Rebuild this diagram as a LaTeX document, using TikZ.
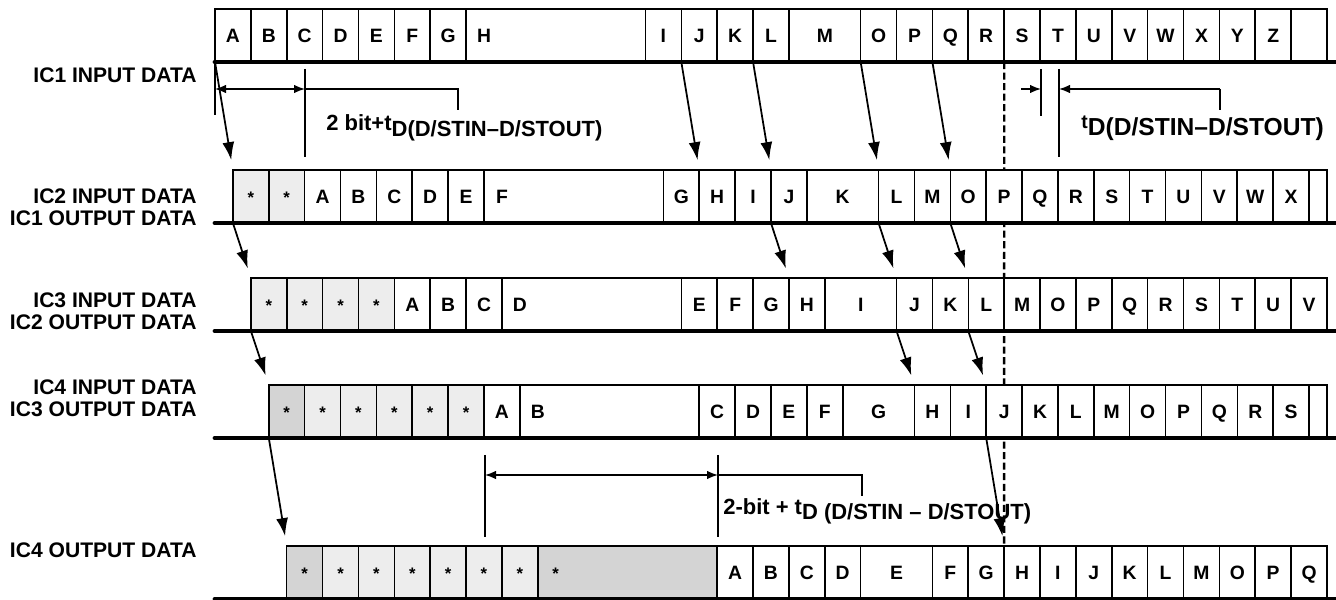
\documentclass[tikz,border=0pt]{standalone}
\usepackage{fontspec}
\setmainfont{Liberation Sans}
\usetikzlibrary{positioning,arrows.meta,backgrounds}

\newlength{\cu}
\setlength{\cu}{7.174mm}
\newcommand{\cellbox}[2]{\pgfmathsetmacro\tw{#1==5 ? 1 : #1}\makebox[#1\cu][l]{\makebox[\tw\cu]{#2}}}

\definecolor{padlight}{gray}{0.93}
\definecolor{paddark}{gray}{0.83}

\tikzset{
  cell/.style={draw, line width=0.9pt, fill=white, inner sep=0pt, outer sep=0pt,
    minimum height=10.6mm, text height=8pt, text depth=0pt, anchor=north west,
    font=\fontsize{11}{13}\selectfont\bfseries},
  pad/.style={cell, font=\fontsize{9.5}{11}\selectfont\bfseries},
  rowstart/.style={inner sep=0pt, outer sep=0pt, minimum size=0pt},
  bus/.style={line width=2.8pt, line cap=round},
  hop/.style={-{Latex[length=3.6mm,width=2.4mm]}, line width=1pt, shorten >=2mm},
  tick/.style={line width=1pt},
  arr/.style={-{Latex[length=2.2mm,width=1.7mm]}, line width=0.8pt},
  span/.style={{Latex[length=2.2mm,width=1.7mm]}-{Latex[length=2.2mm,width=1.7mm]}, line width=0.8pt},
  guide/.style={line width=1.3pt, dash pattern=on 4pt off 2pt},
  note/.style={anchor=base west, inner sep=0pt, font=\fontsize{12.5}{14}\selectfont\bfseries},
  lane/.style={anchor=east, align=right, inner sep=0pt, font=\fontsize{12}{12.5}\selectfont\bfseries}
}

\begin{document}
\begin{tikzpicture}[x=0.2mm, y=-0.2mm]
    \useasboundingbox (0,0) rectangle (1336,600);

    % Row starting points (top left of each data row)
    \node[rowstart] (r1-0) at (215,9) {};
    \node[rowstart] (r2-0) at (232.9,170) {};
    \node[rowstart] (r3-0) at (250.9,278) {};
    \node[rowstart] (r4-0) at (268.8,385) {};
    \node[rowstart] (r5-0) at (286.7,546) {};
    \coordinate (lft) at (215,0);
    \coordinate (rgt) at (1345,0);

    % IC1 input data
    \foreach \t/\w [count=\i, remember=\i as \j (initially 0)] in {A/1,B/1,C/1,D/1,E/1,F/1,G/1,H/5,I/1,J/1,K/1,L/1,M/2,O/1,P/1,Q/1,R/1,S/1,T/1,U/1,V/1,W/1,X/1,Y/1,Z/1,{}/1}
        \node[cell] (r1-\i) at (r1-\j.north east) {\cellbox{\w}{\t}};

    % IC2 input data
    \foreach \f/\w [count=\i, remember=\i as \j (initially 0)] in {padlight/1,padlight/1}
        \node[pad, fill=\f] (r2-\i) at (r2-\j.north east) {\cellbox{\w}{*}};
    \foreach \t/\w [count=\i from 3, remember=\i as \j (initially 2)] in {A/1,B/1,C/1,D/1,E/1,F/5,G/1,H/1,I/1,J/1,K/2,L/1,M/1,O/1,P/1,Q/1,R/1,S/1,T/1,U/1,V/1,W/1,X/1,{}/0.5}
        \node[cell] (r2-\i) at (r2-\j.north east) {\cellbox{\w}{\t}};

    % IC3 input data
    \foreach \f/\w [count=\i, remember=\i as \j (initially 0)] in {padlight/1,padlight/1,padlight/1,padlight/1}
        \node[pad, fill=\f] (r3-\i) at (r3-\j.north east) {\cellbox{\w}{*}};
    \foreach \t/\w [count=\i from 5, remember=\i as \j (initially 4)] in {A/1,B/1,C/1,D/5,E/1,F/1,G/1,H/1,I/2,J/1,K/1,L/1,M/1,O/1,P/1,Q/1,R/1,S/1,T/1,U/1,V/1}
        \node[cell] (r3-\i) at (r3-\j.north east) {\cellbox{\w}{\t}};

    % IC4 input data
    \foreach \f/\w [count=\i, remember=\i as \j (initially 0)] in {paddark/1,padlight/1,padlight/1,padlight/1,padlight/1,padlight/1}
        \node[pad, fill=\f] (r4-\i) at (r4-\j.north east) {\cellbox{\w}{*}};
    \foreach \t/\w [count=\i from 7, remember=\i as \j (initially 6)] in {A/1,B/5,C/1,D/1,E/1,F/1,G/2,H/1,I/1,J/1,K/1,L/1,M/1,O/1,P/1,Q/1,R/1,S/1,{}/0.5}
        \node[cell] (r4-\i) at (r4-\j.north east) {\cellbox{\w}{\t}};

    % IC4 output data
    \foreach \f/\w [count=\i, remember=\i as \j (initially 0)] in {paddark/1,padlight/1,padlight/1,padlight/1,padlight/1,padlight/1,padlight/1,paddark/5}
        \node[pad, fill=\f] (r5-\i) at (r5-\j.north east) {\cellbox{\w}{*}};
    \foreach \t/\w [count=\i from 9, remember=\i as \j (initially 8)] in {A/1,B/1,C/1,D/1,E/2,F/1,G/1,H/1,I/1,J/1,K/1,L/1,M/1,O/1,P/1,Q/1}
        \node[cell] (r5-\i) at (r5-\j.north east) {\cellbox{\w}{\t}};

    % Dashed guide behind the rows
    \begin{scope}[on background layer]
        \draw[guide] (r1-18.south west) -- (r5-16.north west);
    \end{scope}

    % Data lines
    \foreach \r in {1,...,5}
        \draw[bus] (lft |- r\r-1.south west) -- (rgt |- r\r-1.south west);

    % Bits passed on to the next IC
    \foreach \a/\b/\k in {1/2/1, 1/2/10, 1/2/12, 1/2/14, 1/2/16,
                          2/3/1, 2/3/12, 2/3/14, 2/3/16,
                          3/4/1, 3/4/14, 3/4/16,
                          4/5/1, 4/5/16}
        \draw[hop] (r\a-\k.south west) -- (r\b-\k.north west);

    % Row labels
    \node[lane] (l1) at (197,75) {IC1 INPUT DATA};
    \node[lane] (l2) at (197,207) {IC2 INPUT DATA\\IC1 OUTPUT DATA};
    \node[lane] (l3) at (197,311) {IC3 INPUT DATA\\IC2 OUTPUT DATA};
    \node[lane] (l4) at (197,398) {IC4 INPUT DATA\\IC3 OUTPUT DATA};
    \node[lane] (l5) at (197,550) {IC4 OUTPUT DATA};

    % 2 bit delay, IC1 to IC2
    \coordinate (a1) at (215,115);
    \coordinate (a2) at (305,69);
    \coordinate (a3) at (305,157);
    \coordinate (a4) at (215,89);
    \coordinate (a5) at (305,89);
    \coordinate (a6) at (458,110);
    \draw[tick] (r1-1.south west) -- (a1);
    \draw[tick] (a2) -- (a3);
    \draw[span] (a4) -- (a5);
    \draw[tick] (a5) -| (a6);
    \node[note] (n1) at (326,131) {2 bit+t\raisebox{-3.4pt}{D(D/STIN–D/STOUT)}};

    % tD only
    \coordinate (b1) at (1041,69);
    \coordinate (b2) at (1041,116);
    \coordinate (b3) at (1059,69);
    \coordinate (b4) at (1059,157);
    \coordinate (b5) at (1021,89);
    \coordinate (b6) at (1041,89);
    \coordinate (b7) at (1220,89);
    \coordinate (b8) at (1059,89);
    \coordinate (b9) at (1220,110);
    \draw[tick] (b1) -- (b2);
    \draw[tick] (b3) -- (b4);
    \draw[arr] (b5) -- (b6);
    \draw[arr] (b7) -- (b8);
    \draw[tick] (b7) -- (b9);
    \node[note, font=\fontsize{14}{16}\selectfont\bfseries] (n2) at (1081,129)
        {{\fontsize{11}{13}\selectfont t}\raisebox{-3.6pt}{D(D/STIN–D/STOUT)}};

    % IC4 output delay
    \coordinate (c1) at (485,455);
    \coordinate (c2) at (485,537);
    \coordinate (c3) at (718,455);
    \coordinate (c4) at (718,537);
    \coordinate (c5) at (485,475);
    \coordinate (c6) at (718,475);
    \coordinate (c7) at (862,496);
    \draw[tick] (c1) -- (c2);
    \draw[tick] (c3) -- (c4);
    \draw[span] (c5) -- (c6);
    \draw[tick] (c6) -| (c7);
    \node[note] (n3) at (723,514) {2-bit + t\raisebox{-3pt}{D (D/STIN – D/STOUT)}};
\end{tikzpicture}
\end{document}
